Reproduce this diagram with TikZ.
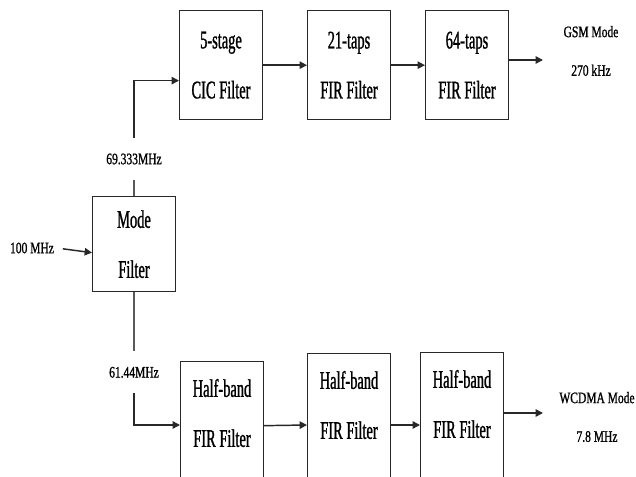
\documentclass[tikz,border=0pt]{standalone}
\usepackage{fontspec}
\setmainfont{Liberation Serif}
\newfontfamily\boxfont[FakeStretch=0.57,FakeBold=1]{Liberation Serif}
\newfontfamily\tagfont[FakeStretch=0.72,FakeBold=1]{Liberation Serif}
\usetikzlibrary{arrows.meta,positioning}
\definecolor{lineblk}{RGB}{40,40,40}

\begin{document}
\begin{tikzpicture}[x=0.75pt, y=-0.75pt,
    filt/.style={rectangle, draw=lineblk, line width=1pt, minimum width=62pt,
        align=center, font=\fontsize{19}{37.5}\selectfont\boxfont},
    tag/.style={align=center, inner sep=2pt, font=\fontsize{12}{29}\selectfont\tagfont},
    tap/.style={tag, inner ysep=11.5pt},
    >={Triangle[length=5.5pt,width=5.5pt]}
]
\useasboundingbox (0,0) rectangle (636,477);
\clip (0,0) rectangle (636,477);

% mode filter and input
\node[filt, minimum height=71.25pt, anchor=north west] (mode) at (92,196) {Mode\\Filter};
\node[tag] (infreq) at (32,248) {100 MHz};

% upper branch (GSM)
\node[filt, minimum height=81.75pt, anchor=north west] (cic) at (179,10) {5-stage\\CIC Filter};
\node[filt, minimum height=81.75pt, right=33pt of cic] (fir21) {21-taps\\FIR Filter};
\node[filt, minimum height=81.75pt, right=25.5pt of fir21] (fir64) {64-taps\\FIR Filter};
\node[tag] (gsm) at (591,51) {GSM Mode\\270 kHz};
\coordinate (gsmout) at (543,60);
\node[tap, above=12pt of mode] (gsmfreq) {69.333MHz};

% lower branch (WCDMA)
\node[filt, anchor=north west, inner ysep=13pt] (hb1) at (180,361) {Half-band\\FIR Filter\rule[-60pt]{0pt}{60pt}};
\node[filt, anchor=north west, inner ysep=13pt] (hb2) at (307,353) {Half-band\\FIR Filter\rule[-60pt]{0pt}{60pt}};
\node[filt, anchor=north west, inner ysep=13pt] (hb3) at (420,352) {Half-band\\FIR Filter\rule[-60pt]{0pt}{60pt}};
\node[tag] (wcdma) at (597,417) {WCDMA Mode\\7.8 MHz};
\coordinate (wcdmaout) at (543,413);
\node[tap, below=44.25pt of mode] (wcdmafreq) {61.44MHz};

% connectors
\draw[->, line width=1.1pt, lineblk, shorten <=4.5pt] (infreq.east) -- ([yshift=-6.4pt]mode.west);
\draw[line width=1pt, black!65] (mode.north) -- (gsmfreq.south);
\draw[->, line width=1.1pt, lineblk] (gsmfreq.north) |- ([yshift=-11.6pt]cic.west);
\draw[->, line width=1.1pt, lineblk] (cic) -- (fir21);
\draw[->, line width=1.1pt, lineblk] (fir21) -- (fir64);
\draw[->, line width=1.1pt, lineblk] (fir64.east |- gsmout) -- (gsmout);

\draw[line width=1pt, black!65] (mode.south) -- (wcdmafreq.north);
\draw[->, line width=1.1pt, lineblk] (wcdmafreq.south) |- ([yshift=-48pt]hb1.north west);
\draw[->, line width=1.1pt, lineblk] ([yshift=-48.5pt]hb1.north east) -- ([yshift=-54pt]hb2.north west);
\draw[->, line width=1.1pt, lineblk] ([yshift=-54pt]hb2.north east) -- ([yshift=-54.75pt]hb3.north west);
\draw[->, line width=1.1pt, lineblk] (hb3.east |- wcdmaout) -- (wcdmaout);
\end{tikzpicture}
\end{document}
